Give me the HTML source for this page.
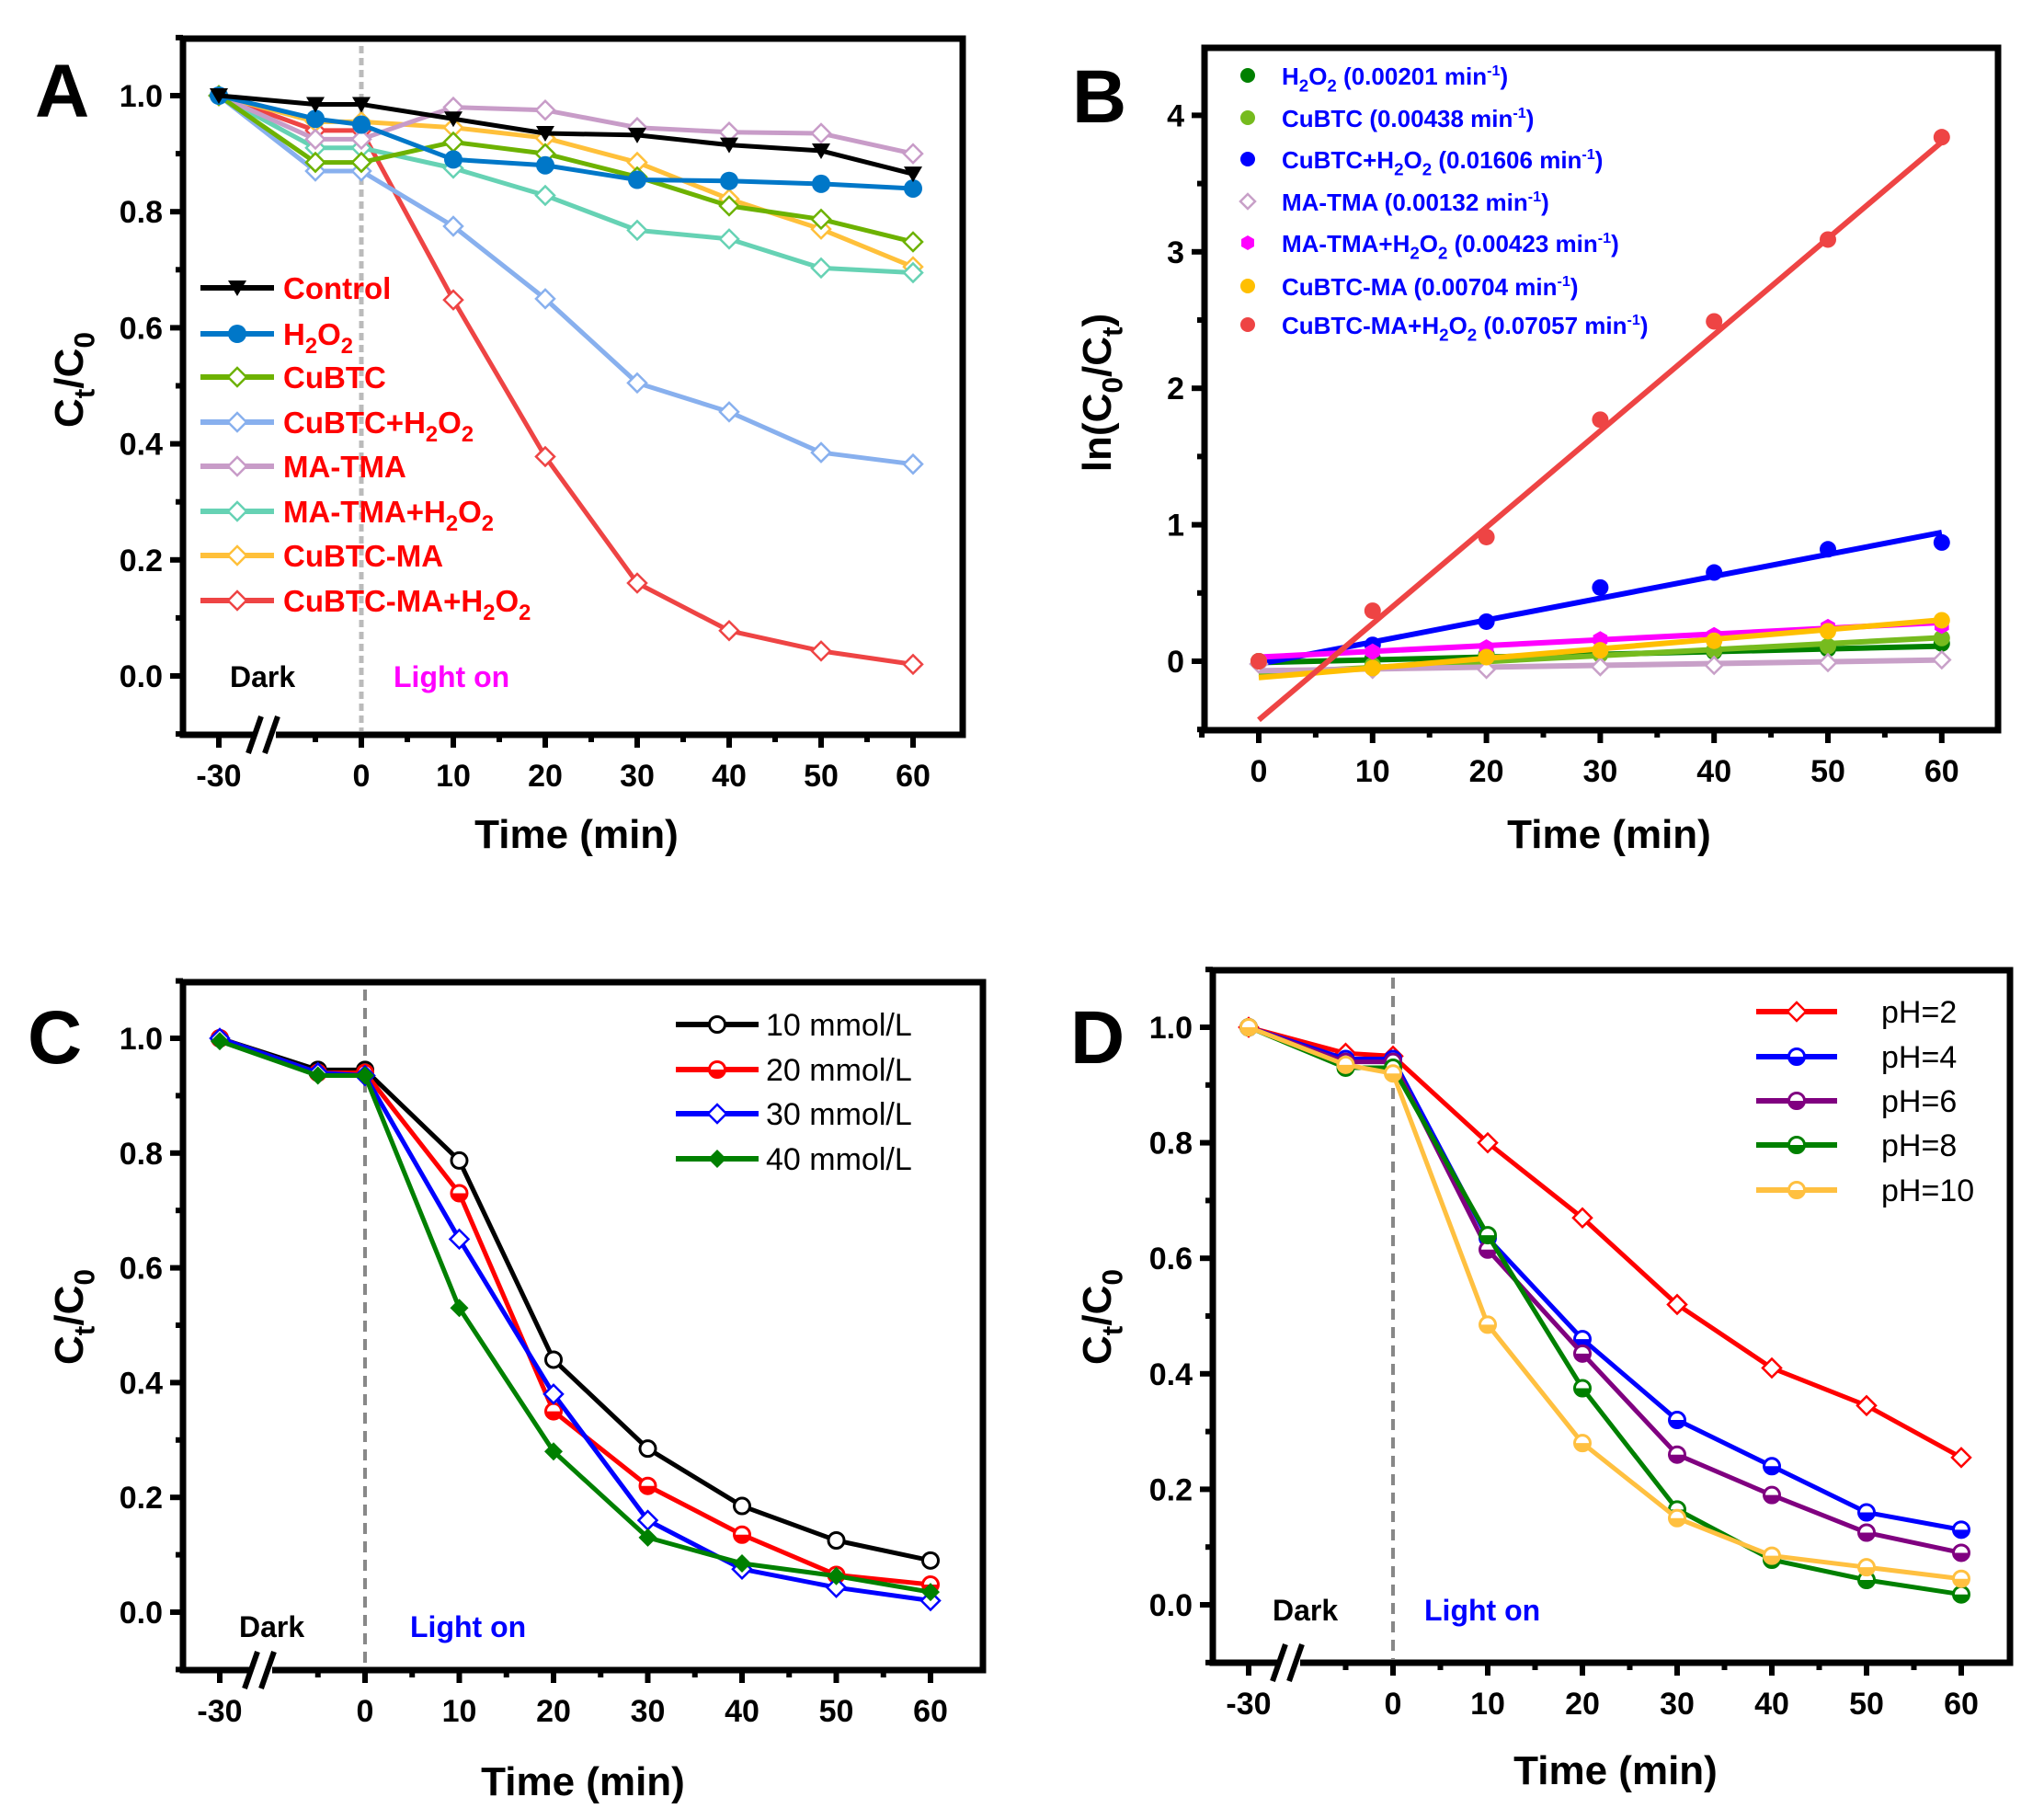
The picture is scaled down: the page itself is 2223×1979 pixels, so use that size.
<!DOCTYPE html>
<html><head><meta charset="utf-8"><style>
html,body{margin:0;padding:0;background:#fff;}
svg{display:block;font-family:"Liberation Sans",Arial,sans-serif;}
</style></head><body>
<svg id="fig" xmlns="http://www.w3.org/2000/svg" width="2223" height="1979" viewBox="0 0 2223 1979"></svg>
<script>
// ---------- Data ----------
const timesDark = [-30, -5, 0, 10, 20, 30, 40, 50, 60];
const aLabels = ["Control","H_2O_2","CuBTC","CuBTC+H_2O_2","MA-TMA","MA-TMA+H_2O_2","CuBTC-MA","CuBTC-MA+H_2O_2"];
const aControl = [1.0,0.985,0.985,0.96,0.935,0.932,0.915,0.905,0.865];
const aH2O2 = [1.0,0.96,0.95,0.89,0.88,0.855,0.853,0.848,0.84];
const aCuBTC = [1.0,0.885,0.885,0.92,0.90,0.86,0.81,0.787,0.748];
const aCuBTCH2O2 = [1.0,0.87,0.87,0.775,0.65,0.505,0.455,0.385,0.365];
const aMATMA = [1.0,0.925,0.925,0.98,0.975,0.945,0.937,0.935,0.9];
const aMATMAH2O2 = [1.0,0.91,0.91,0.875,0.828,0.768,0.753,0.703,0.695];
const aCuBTCMA = [1.0,0.955,0.955,0.945,0.927,0.885,0.822,0.77,0.705];
const aCuBTCMAH2O2 = [1.0,0.94,0.94,0.648,0.378,0.16,0.078,0.043,0.02];

const bTimes = [0,10,20,30,40,50,60];
const bLabels = ["H_2O_2 (0.00201 min^-1)","CuBTC (0.00438 min^-1)","CuBTC+H_2O_2 (0.01606 min^-1)","MA-TMA (0.00132 min^-1)","MA-TMA+H_2O_2 (0.00423 min^-1)","CuBTC-MA (0.00704 min^-1)","CuBTC-MA+H_2O_2 (0.07057 min^-1)"];
const bH2O2 = [0,0.02,0.05,0.06,0.07,0.09,0.13];
const bCuBTC = [0,-0.03,0.04,0.05,0.08,0.11,0.17];
const bCuBTCH2O2 = [0,0.12,0.29,0.54,0.65,0.82,0.87];
const bMATMA = [-0.02,-0.06,-0.06,-0.04,-0.03,-0.01,0.01];
const bMATMAH2O2 = [0,0.07,0.10,0.16,0.19,0.25,0.26];
const bCuBTCMA = [0,-0.05,0.03,0.08,0.15,0.22,0.30];
const bCuBTCMAH2O2 = [0,0.37,0.91,1.77,2.49,3.09,3.84];
const bSlopes = [0.00201,0.00438,0.01606,0.00132,0.00423,0.00704,0.07057];
const bIntercepts = [-0.01,-0.09,-0.02,-0.07,0.03,-0.12,-0.43];

const cLabels = ["10 mmol/L","20 mmol/L","30 mmol/L","40 mmol/L"];
const c10 = [1.0,0.945,0.945,0.787,0.44,0.285,0.185,0.125,0.09];
const c20 = [1.0,0.94,0.94,0.73,0.35,0.22,0.135,0.065,0.048];
const c30 = [1.0,0.94,0.935,0.65,0.38,0.16,0.075,0.043,0.02];
const c40 = [0.995,0.935,0.935,0.53,0.28,0.13,0.085,0.063,0.035];

const dLabels = ["pH=2","pH=4","pH=6","pH=8","pH=10"];
const dPH2 = [1.0,0.955,0.95,0.80,0.67,0.52,0.41,0.345,0.255];
const dPH4 = [1.0,0.945,0.945,0.635,0.46,0.32,0.24,0.16,0.13];
const dPH6 = [1.0,0.94,0.94,0.615,0.435,0.26,0.19,0.125,0.09];
const dPH8 = [1.0,0.93,0.93,0.64,0.375,0.165,0.078,0.043,0.018];
const dPH10 = [1.0,0.935,0.92,0.485,0.28,0.15,0.085,0.065,0.045];

const ctTicks = [0,0.2,0.4,0.6,0.8,1.0];
const ctTickLabels = ["0.0","0.2","0.4","0.6","0.8","1.0"];
const darkXTicks = [-30,0,10,20,30,40,50,60];
const bYTicks = [0,1,2,3,4];
const bXTicks = [0,10,20,30,40,50,60];

// ---------- helpers ----------
const NS = "http://www.w3.org/2000/svg";
const svg = document.getElementById("fig");
function mk(tag, attrs, parent){
  const e = document.createElementNS(NS, tag);
  for (const k in attrs) e.setAttribute(k, attrs[k]);
  (parent || svg).appendChild(e);
  return e;
}
function richText(parent, x, y, str, size, fill, anchor, extra){
  const t = mk("text", Object.assign({x:x, y:y, "font-size":size, "font-weight":"bold", fill:fill, "text-anchor":anchor||"start"}, extra||{}), parent);
  let i = 0, buf = "", shift = 0;
  const flush = () => { if (buf){ const s = mk("tspan", shift?{dy:shift}:{}, t); s.textContent = buf; shift = 0; buf = ""; } };
  while (i < str.length){
    const ch = str[i];
    if (ch === "_"){
      flush();
      const s = mk("tspan", {dy: size*0.28, "font-size": size*0.72}, t); s.textContent = str[i+1];
      shift = -size*0.28; i += 2;
    } else if (ch === "^"){
      flush();
      let j = i+1, sup = "";
      while (j < str.length && str[j] !== ")" && str[j] !== " ") { sup += str[j]; j++; }
      const s = mk("tspan", {dy: -size*0.38, "font-size": size*0.62}, t); s.textContent = sup;
      shift = size*0.38; i = j;
    } else { buf += ch; i++; }
  }
  flush();
  return t;
}
function marker(g, shape, color, cx, cy, r){
  let e;
  if (shape === "tri"){
    e = mk("polygon", {points:`${cx-r},${cy-r*0.8} ${cx+r},${cy-r*0.8} ${cx},${cy+r*0.9}`, fill:color}, g);
  } else if (shape === "circle"){
    e = mk("circle", {cx:cx, cy:cy, r:r, fill:color}, g);
  } else if (shape === "circleHollow"){
    e = mk("circle", {cx:cx, cy:cy, r:r*0.85, fill:"#fff", stroke:color, "stroke-width":3}, g);
  } else if (shape === "circleHalf"){
    e = mk("circle", {cx:cx, cy:cy, r:r*0.85, fill:"#fff", stroke:color, "stroke-width":3}, g);
    mk("path", {d:`M${cx-r*0.85},${cy} A${r*0.85},${r*0.85} 0 0 0 ${cx+r*0.85},${cy} Z`, fill:color}, g);
  } else if (shape === "diamondHollow"){
    e = mk("polygon", {points:`${cx},${cy-r} ${cx+r},${cy} ${cx},${cy+r} ${cx-r},${cy}`, fill:"#fff", stroke:color, "stroke-width":2.5}, g);
  } else if (shape === "diamond"){
    e = mk("polygon", {points:`${cx},${cy-r} ${cx+r},${cy} ${cx},${cy+r} ${cx-r},${cy}`, fill:color}, g);
  } else if (shape === "hex"){
    e = mk("polygon", {points:`${cx},${cy-r} ${cx+r*0.87},${cy-r/2} ${cx+r*0.87},${cy+r/2} ${cx},${cy+r} ${cx-r*0.87},${cy+r/2} ${cx-r*0.87},${cy-r/2}`, fill:color}, g);
  }
  return e;
}

function frame(p, name){
  const g = mk("g", {});
  
  
  mk("rect", {x:p.L, y:p.T, width:p.R-p.L, height:p.B-p.T, fill:"none", stroke:"#000", "stroke-width":7}, g);
  return g;
}
function yTicks(g, p, ticks, labels, minors, fy){
  ticks.forEach((v,i)=>{
    const y = fy(v);
    mk("line",{x1:p.L-14,x2:p.L,y1:y,y2:y,stroke:"#000","stroke-width":6},g);
    const t = mk("text",{x:p.L-22,y:y+12,"font-size":34,"font-weight":"bold","text-anchor":"end",fill:"#000"},g);
    t.textContent = labels[i];
    
    
  });
  minors.forEach(v=>{ const y=fy(v); mk("line",{x1:p.L-8,x2:p.L,y1:y,y2:y,stroke:"#000","stroke-width":6},g); });
}
function xTicks(g, p, ticks, minors, fx){
  ticks.forEach(v=>{
    const x = fx(v);
    mk("line",{x1:x,x2:x,y1:p.B,y2:p.B+14,stroke:"#000","stroke-width":6},g);
    const t = mk("text",{x:x,y:p.B+56,"font-size":34,"font-weight":"bold","text-anchor":"middle",fill:"#000"},g);
    t.textContent = String(v);
    
    
  });
  minors.forEach(v=>{ const x=fx(v); mk("line",{x1:x,x2:x,y1:p.B,y2:p.B+8,stroke:"#000","stroke-width":6},g); });
}
function breakMark(g, x, y){
  mk("rect",{x:x-12,y:y-8,width:22,height:16,fill:"#fff"},g);
  mk("line",{x1:x-20,x2:x-6,y1:y+20,y2:y-20,stroke:"#000","stroke-width":6},g);
  mk("line",{x1:x-2,x2:x+12,y1:y+20,y2:y-20,stroke:"#000","stroke-width":6},g);
}
function series(name, xs, ys, fx, fy, color, shape, r, lw){
  const g = mk("g", {});
  
  
  const pts = xs.map((t,i)=>fx(t)+","+fy(ys[i])).join(" ");
  const pl = mk("polyline",{points:pts,fill:"none",stroke:color,"stroke-width":lw||6,"stroke-linejoin":"round"},g);
  
  
  xs.forEach((t,i)=>{
    const m = marker(g, shape, color, fx(t), fy(ys[i]), r);
    
    
  });
  return g;
}
function label(text, x, y, size, fill, anchor, rotate, name, weight){
  const t = richText(svg, x, y, text, size, fill, anchor, rotate?{transform:`rotate(-90 ${x} ${y})`}:{});
  if (weight) t.setAttribute("font-weight", weight);
  
  
  return t;
}

// ---------- Panel A ----------
(function(){
  const p = {L:199,T:42,R:1047,B:799};
  const fy = v => 735 - v*631;
  const fx = t => t===-30 ? 238 : 393 + t*10.0;
  const g = frame(p, "panel-a");
  yTicks(g,p,ctTicks,ctTickLabels,[-0.1,0.1,0.3,0.5,0.7,0.9,1.1],fy);
  xTicks(g,p,darkXTicks,[-5,5,15,25,35,45,55],fx);
  mk("line",{x1:fx(0),x2:fx(0),y1:p.T+8,y2:p.B-4,stroke:"#bbb","stroke-width":5,"stroke-dasharray":"8 5"},g);
  breakMark(g, 290, p.B);
  const ys = [aControl,aH2O2,aCuBTC,aCuBTCH2O2,aMATMA,aMATMAH2O2,aCuBTCMA,aCuBTCMAH2O2];
  const cols = ["#000000","#0077C8","#6DB200","#88B0EE","#C89CC8","#66D2B4","#FFC03A","#EE4444"];
  const shapes = ["tri","circle","diamondHollow","diamondHollow","diamondHollow","diamondHollow","diamondHollow","diamondHollow"];
  for (let k=ys.length-1;k>=0;k--) series("a-series-"+k, timesDark, ys[k], fx, fy, cols[k], shapes[k], 10, 5);
  const legendY = [313,363,410,459,507,556,604,653];
  aLabels.forEach((lab,i)=>{
    const lg = mk("g",{});
    
    
    mk("line",{x1:218,x2:298,y1:legendY[i],y2:legendY[i],stroke:cols[i],"stroke-width":6},lg);
    marker(lg, shapes[i], cols[i], 258, legendY[i], 10);
    richText(lg, 308, legendY[i]+12, lab, 33, "#FF0000", "start");
  });
  label("Dark", 250, 747, 32, "#000", "start", false, "dark-label");
  label("Light on", 428, 747, 32, "#FF00FF", "start", false, "light-on-label");
  label("A", 38, 127, 82, "#000", "start", false, "panel-a-letter");
  label("C_t/C_0", 90, 413, 44, "#000", "middle", true, "y-axis-title-a");
  label("Time (min)", 627, 922, 44, "#000", "middle", false, "x-axis-title-a");
})();

// ---------- Panel B ----------
(function(){
  const p = {L:1310,T:52,R:2173,B:794};
  const fy = v => 719 - v*148.4;
  const fx = t => 1369 + t*12.38;
  const g = frame(p, "panel-b");
  yTicks(g,p,bYTicks,bYTicks.map(String),[-0.5,0.5,1.5,2.5,3.5],fy);
  xTicks(g,p,bXTicks,[-5,5,15,25,35,45,55],fx);
  const ys = [bH2O2,bCuBTC,bCuBTCH2O2,bMATMA,bMATMAH2O2,bCuBTCMA,bCuBTCMAH2O2];
  const cols = ["#008000","#76BB1E","#0000FF","#C8A0C8","#FF00FF","#FFBF00","#EE4444"];
  const shapes = ["circle","circle","circle","diamondHollow","hex","circle","circle"];
  ys.forEach((arr,k)=>{
    const sg = mk("g",{});
    
    
    const fit = mk("line",{x1:fx(0),y1:fy(bIntercepts[k]),x2:fx(60),y2:fy(bIntercepts[k]+bSlopes[k]*60),stroke:cols[k],"stroke-width":6},sg);
    
    
    bTimes.forEach((t,i)=>{
      const m = marker(sg, shapes[k], cols[k], fx(t), fy(arr[i]), 9);
      
      
    });
  });
  const legendY = [82,128,173,219,264,311,353];
  bLabels.forEach((lab,i)=>{
    const lg = mk("g",{});
    
    
    marker(lg, shapes[i], cols[i], 1357, legendY[i], 8);
    richText(lg, 1394, legendY[i]+10, lab, 26, "#0000FF", "start");
  });
  label("B", 1166, 133, 82, "#000", "start", false, "panel-b-letter");
  label("ln(C_0/C_t)", 1208, 427, 44, "#000", "middle", true, "y-axis-title-b");
  label("Time (min)", 1750, 922, 44, "#000", "middle", false, "x-axis-title-b");
})();

// ---------- Panel C ----------
(function(){
  const p = {L:199,T:1068,R:1069,B:1816};
  const fy = v => 1753 - v*624;
  const fx = t => t===-30 ? 239 : 397 + t*10.25;
  const g = frame(p, "panel-c");
  yTicks(g,p,ctTicks,ctTickLabels,[-0.1,0.1,0.3,0.5,0.7,0.9,1.1],fy);
  xTicks(g,p,darkXTicks,[-5,5,15,25,35,45,55],fx);
  mk("line",{x1:fx(0),x2:fx(0),y1:p.T+8,y2:p.B-4,stroke:"#888","stroke-width":4,"stroke-dasharray":"12 8"},g);
  breakMark(g, 286, p.B);
  const ys = [c10,c20,c30,c40];
  const cols = ["#000000","#FF0000","#0000FF","#008000"];
  const shapes = ["circleHollow","circleHalf","diamondHollow","diamond"];
  ys.forEach((arr,k)=>series("c-series-"+k, timesDark, arr, fx, fy, cols[k], shapes[k], 10, 5));
  const legendY = [1114,1163,1211,1260];
  cLabels.forEach((lab,i)=>{
    const lg = mk("g",{});
    
    
    mk("line",{x1:735,x2:825,y1:legendY[i],y2:legendY[i],stroke:cols[i],"stroke-width":6},lg);
    marker(lg, shapes[i], cols[i], 780, legendY[i], 10);
    const t = richText(lg, 833, legendY[i]+12, lab, 34, "#000", "start");
    t.setAttribute("font-weight","normal");
  });
  label("Dark", 260, 1780, 32, "#000", "start", false, "dark-label");
  label("Light on", 446, 1780, 32, "#0000FF", "start", false, "light-on-label");
  label("C", 30, 1156, 82, "#000", "start", false, "panel-c-letter");
  label("C_t/C_0", 90, 1432, 44, "#000", "middle", true, "y-axis-title-c");
  label("Time (min)", 634, 1952, 44, "#000", "middle", false, "x-axis-title-c");
})();

// ---------- Panel D ----------
(function(){
  const p = {L:1319,T:1055,R:2186,B:1808};
  const fy = v => 1745 - v*628;
  const fx = t => t===-30 ? 1358 : 1515 + t*10.3;
  const g = frame(p, "panel-d");
  yTicks(g,p,ctTicks,ctTickLabels,[-0.1,0.1,0.3,0.5,0.7,0.9,1.1],fy);
  xTicks(g,p,darkXTicks,[-5,5,15,25,35,45,55],fx);
  mk("line",{x1:fx(0),x2:fx(0),y1:p.T+8,y2:p.B-4,stroke:"#888","stroke-width":4,"stroke-dasharray":"12 8"},g);
  breakMark(g, 1404, p.B);
  const ys = [dPH2,dPH4,dPH6,dPH8,dPH10];
  const cols = ["#FF0000","#0000FF","#800080","#008000","#FFC040"];
  const shapes = ["diamondHollow","circleHalf","circleHalf","circleHalf","circleHalf"];
  ys.forEach((arr,k)=>series("d-series-"+k, timesDark, arr, fx, fy, cols[k], shapes[k], 10, 5));
  const legendY = [1100,1149,1197,1245,1294];
  dLabels.forEach((lab,i)=>{
    const lg = mk("g",{});
    
    
    mk("line",{x1:1910,x2:1998,y1:legendY[i],y2:legendY[i],stroke:cols[i],"stroke-width":6},lg);
    marker(lg, shapes[i], cols[i], 1954, legendY[i], 10);
    const t = richText(lg, 2046, legendY[i]+12, lab, 34, "#000", "start");
    t.setAttribute("font-weight","normal");
  });
  label("Dark", 1384, 1762, 32, "#000", "start", false, "dark-label");
  label("Light on", 1549, 1762, 32, "#0000FF", "start", false, "light-on-label");
  label("D", 1164, 1156, 82, "#000", "start", false, "panel-d-letter");
  label("C_t/C_0", 1208, 1432, 44, "#000", "middle", true, "y-axis-title-d");
  label("Time (min)", 1757, 1940, 44, "#000", "middle", false, "x-axis-title-d");
})();
</script>
</body></html>
